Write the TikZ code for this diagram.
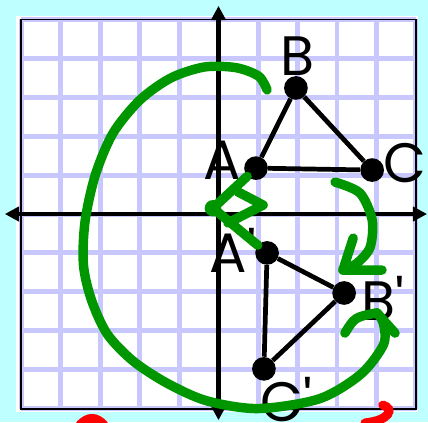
\documentclass[tikz,border=0pt]{standalone}
\usepackage{fontspec}
\setmainfont{Poppins}
\usetikzlibrary{arrows.meta}

\definecolor{bgcyan}{RGB}{190,255,255}
\definecolor{gridblue}{RGB}{200,200,255}
\definecolor{penGreen}{RGB}{0,150,0}

\begin{document}
\begin{tikzpicture}[x=1cm, y=0.985cm,
  dot/.style={circle, fill=black, inner sep=0pt, minimum size=0.6cm},
  letter/.style={inner sep=0pt, font=\fontsize{40}{40}\selectfont},
  edge/.style={line width=3.4pt},
  axis/.style={line width=3.2pt, {Triangle[length=3.6mm, width=3.6mm]}-{Triangle[length=3.6mm, width=3.6mm]}},
  pen/.style={line width=6.8pt, penGreen, line cap=round, line join=round},
  redpen/.style={line width=6.5pt, red, line cap=round},
]

% === BACKGROUND AND GRID ===
\fill[bgcyan] (-5.532,5.501) rectangle (5.304,-5.347);
\useasboundingbox (-5.532,5.501) rectangle (5.304,-5.347);
\fill[white] (-5.13,5.1) rectangle (5.05,-5.1);
\foreach \k in {-5,...,5} {
  \draw[gridblue, line width=3.6pt] (\k,-5) -- (\k,5);
  \draw[gridblue, line width=3.6pt] (-5,\k) -- (5,\k);
}
\draw[line width=1.4pt] (-5,-5) rectangle (5,5);

% === AXES ===
\draw[axis] (-5.41,0) -- (5.28,0);
\draw[axis] (0,-5.30) -- (0,5.35);

% === TRIANGLE ABC ===
\node[dot] (A) at (0.95,1.18) {};
\node[dot] (B) at (1.96,3.24) {};
\node[dot] (C) at (3.89,1.13) {};
\draw[edge] (A) -- (B) -- (C) -- (A);

\node[letter] (labA) at (0.09,1.39) {A};
\node[letter] (labB) at (1.99,4.06) {B};
\node[letter] (labC) at (4.72,1.31) {C};

% === IMAGE A'B'C' ===
\node[dot] (Ap) at (1.23,-1.00) {};
\node[dot] (Bp) at (3.18,-2.03) {};
\node[dot] (Cp) at (1.15,-3.98) {};
\draw[edge] (Ap) -- (Bp) -- (Cp) -- (Ap);

\node[letter] (labAp) at (0.37,-0.93) {A\textquotesingle};
\node[letter] (labBp) at (4.16,-2.16) {B\textquotesingle};
\node[letter] (labCp) at (1.73,-4.78) {C\textquotesingle};

% === ROTATION MARKS ===
\coordinate (O) at (-0.14,0.15);
\draw[pen] (A) -- (O) -- (Ap);
\fill[penGreen] (O) circle (0.21);
\draw[pen] (0.49,0.57) -- (1.13,0.23) -- (0.24,-0.23);

% big turn from B round to B'
\draw[pen] plot[smooth] coordinates {(1.23,3.19) (1.02,3.54) (0.45,3.76) (-0.35,3.78)
  (-1.20,3.50) (-1.99,2.93) (-2.67,2.08) (-3.12,1.00) (-3.38,-0.20) (-3.42,-1.30)
  (-3.22,-2.20) (-2.82,-3.08) (-2.16,-3.78) (-1.30,-4.35) (-0.30,-4.80) (1.00,-5.00)
  (2.55,-4.75) (3.60,-4.12) (4.18,-3.35) (4.17,-2.80) (4.01,-2.54)};
\draw[pen] (3.20,-3.06) .. controls (3.45,-2.65) .. (4.01,-2.54) -- (4.47,-3.06);

% short turn from C to B'
\draw[pen] plot[smooth] coordinates {(2.95,0.82) (3.58,0.54) (3.89,-0.15) (3.84,-0.85)
  (3.51,-1.26) (3.15,-1.44)};
\draw[pen] (3.41,-0.62) -- (3.15,-1.44) -- (4.14,-1.44);

% red scraps at the bottom edge
\draw[redpen] (4.16,-4.91) .. controls (4.45,-5.0) and (4.35,-5.3) .. (3.71,-5.37);
\draw[redpen] (-3.51,-5.42) .. controls (-3.3,-5.2) and (-3.1,-5.2) .. (-2.90,-5.42);
\end{tikzpicture}
\end{document}
